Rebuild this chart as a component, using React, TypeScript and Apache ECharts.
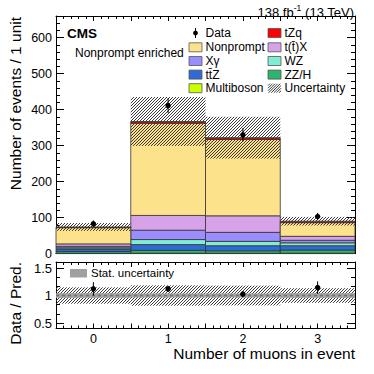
import React, { useEffect, useRef } from "react";
import * as echarts from "echarts";

// ---- data ----
const bins = [0, 1, 2, 3];
const xTickLabels = ["0", "1", "2", "3"];
const multiboson = [1, 1, 1, 1];
const zzh = [5, 8, 7, 9];
const ttz = [7, 16, 14, 12];
const wz = [3, 14, 12, 8];
const xgamma = [4, 26, 25, 7];
const ttx = [7, 41, 46, 11];
const nonprompt = [45, 256, 212, 38];
const tzq = [2, 5, 5, 4];
const observed = [83, 411, 330, 103];
const systUnc = [11, 68, 58, 12];
const statUncRel = [0.04, 0.035, 0.035, 0.04];
const mainYTicks = [0, 100, 200, 300, 400, 500, 600];
const ratioYTicks = [0.5, 1, 1.5];

const FONT = "'Liberation Sans', Arial, Helvetica, sans-serif";

const stackDefs = [
  { name: "Multiboson", values: multiboson, color: "#ccff00" },
  { name: "ZZ/H", values: zzh, color: "#2db36c" },
  { name: "tt\u0304Z", values: ttz, color: "#2f6bd6" },
  { name: "WZ", values: wz, color: "#80edd0" },
  { name: "X\u03b3", values: xgamma, color: "#9b8cff" },
  { name: "t(t\u0304)X", values: ttx, color: "#d6a2e8" },
  { name: "Nonprompt", values: nonprompt, color: "#fde28c" },
  { name: "tZq", values: tzq, color: "#ff0000" },
];

const totals = bins.map((_, i) => stackDefs.reduce((s, d) => s + d.values[i], 0));

function measure(text: string, size: number, weight = "normal") {
  const c = document.createElement("canvas").getContext("2d");
  if (!c) return text.length * size * 0.55;
  c.font = `${weight} ${size}px 'Liberation Sans', Arial, sans-serif`;
  return c.measureText(text).width;
}

function hatchLines(x0: number, y0: number, x1: number, y1: number, step: number, style: any) {
  const out: any[] = [];
  const cStart = Math.ceil((x0 + y0) / step) * step;
  for (let c = cStart; c <= x1 + y1; c += step) {
    const xa = Math.max(x0, c - y1);
    const xb = Math.min(x1, c - y0);
    if (xb > xa) out.push({ type: "line", shape: { x1: xa, y1: c - xa, x2: xb, y2: c - xb }, style });
  }
  return out;
}

const hatchStyle = { stroke: "#3a3a3a", lineWidth: 1 };

const boxRender = (color: string) => (params: any, api: any) => {
  const x = api.value(0), lo = api.value(1), hi = api.value(2);
  const a = api.coord([x - 0.5, hi]);
  const b = api.coord([x + 0.5, lo]);
  return {
    type: "rect",
    shape: { x: a[0], y: a[1], width: b[0] - a[0], height: b[1] - a[1] },
    style: { fill: color, stroke: "#333", lineWidth: 0.8 },
  };
};

const hatchRender = (params: any, api: any) => {
  const x = api.value(0), lo = api.value(1), hi = api.value(2);
  const a = api.coord([x - 0.5, hi]);
  const b = api.coord([x + 0.5, lo]);
  return { type: "group", children: hatchLines(a[0], a[1], b[0], b[1], 3, hatchStyle) };
};

const grayRender = (params: any, api: any) => {
  const x = api.value(0), lo = api.value(1), hi = api.value(2);
  const a = api.coord([x - 0.5, hi]);
  const b = api.coord([x + 0.5, lo]);
  return {
    type: "rect",
    shape: { x: a[0], y: a[1], width: b[0] - a[0], height: b[1] - a[1] },
    style: { fill: "#a0a0a0" },
  };
};

const pointRender = (params: any, api: any) => {
  const x = api.value(0), y = api.value(1), lo = api.value(2), hi = api.value(3);
  const p = api.coord([x, y]);
  const pl = api.coord([x, lo]);
  const ph = api.coord([x, hi]);
  return {
    type: "group",
    children: [
      { type: "line", shape: { x1: p[0], y1: pl[1], x2: p[0], y2: ph[1] }, style: { stroke: "#000", lineWidth: 1 } },
      { type: "circle", shape: { cx: p[0], cy: p[1], r: 2.7 }, style: { fill: "#000" } },
    ],
  };
};

function xAxis(gridIndex: number, position: string, showLabels: boolean) {
  return {
    type: "value",
    gridIndex,
    position,
    min: -0.5,
    max: 3.5,
    interval: 0.5,
    axisLine: { show: true, onZero: false, lineStyle: { color: "#000", width: 1 } },
    axisTick: { show: true, inside: true, length: 5, lineStyle: { color: "#000", width: 1 } },
    minorTick: { show: true, splitNumber: 5, length: 3, lineStyle: { color: "#000", width: 1 } },
    splitLine: { show: false },
    minorSplitLine: { show: false },
    axisLabel: showLabels
      ? {
          show: true,
          color: "#000",
          fontSize: 12.5,
          fontFamily: FONT,
          margin: 4,
          formatter: (v: number) => {
            const i = bins.indexOf(v);
            return i >= 0 ? xTickLabels[i] : "";
          },
        }
      : { show: false },
  };
}

function yMajor(gridIndex: number, position: string, min: number, max: number, ticks: number[], showLabels: boolean, fontSize: number, len: number) {
  return {
    type: "value",
    gridIndex,
    position,
    min,
    max,
    axisLine: { show: true, onZero: false, lineStyle: { color: "#000", width: 1 } },
    axisTick: { show: true, inside: true, length: len, customValues: ticks, lineStyle: { color: "#000", width: 1 } },
    splitLine: { show: false },
    axisLabel: showLabels
      ? { show: true, customValues: ticks, color: "#000", fontSize, fontFamily: FONT, margin: 4 }
      : { show: false },
  };
}

function yMinor(gridIndex: number, position: string, min: number, max: number, ticks: number[], len: number) {
  return {
    type: "value",
    gridIndex,
    position,
    min,
    max,
    axisLine: { show: false, onZero: false },
    axisTick: { show: true, inside: true, length: len, customValues: ticks, lineStyle: { color: "#000", width: 1 } },
    splitLine: { show: false },
    axisLabel: { show: false },
  };
}

const MAIN_MAX = 660;
const R_MIN = 0.4;
const R_MAX = 1.61;
const mainMinor: number[] = [];
for (let v = 0; v <= MAIN_MAX; v += 20) mainMinor.push(v);
const ratioMinor: number[] = [];
for (let k = 0; k <= 6; k++) ratioMinor.push(0.5 + k / 6);

function buildOption() {
  const series: any[] = [];
  stackDefs.forEach((d, si) => {
    const dataArr = bins.map((b, i) => {
      let lo = 0;
      for (let j = 0; j < si; j++) lo += stackDefs[j].values[i];
      return [b, lo, lo + d.values[i]];
    });
    series.push({
      type: "custom",
      name: d.name,
      xAxisIndex: 0,
      yAxisIndex: 0,
      z: 2,
      encode: { x: 0, y: [1, 2] },
      data: dataArr,
      renderItem: boxRender(d.color),
    });
  });
  series.push({
    type: "custom",
    name: "Uncertainty",
    xAxisIndex: 0,
    yAxisIndex: 0,
    z: 3,
    encode: { x: 0, y: [1, 2] },
    data: bins.map((b, i) => [b, totals[i] - systUnc[i], totals[i] + systUnc[i]]),
    renderItem: hatchRender,
  });
  series.push({
    type: "custom",
    name: "Data",
    xAxisIndex: 0,
    yAxisIndex: 0,
    z: 5,
    encode: { x: 0, y: [1, 2, 3] },
    data: bins.map((b, i) => [b, observed[i], observed[i] - Math.sqrt(observed[i]), observed[i] + Math.sqrt(observed[i])]),
    renderItem: pointRender,
  });
  // ratio panel
  series.push({
    type: "custom",
    name: "Syst ratio",
    xAxisIndex: 2,
    yAxisIndex: 4,
    z: 2,
    encode: { x: 0, y: [1, 2] },
    data: bins.map((b, i) => [b, 1 - systUnc[i] / totals[i], 1 + systUnc[i] / totals[i]]),
    renderItem: hatchRender,
  });
  series.push({
    type: "custom",
    name: "Stat. uncertainty",
    xAxisIndex: 2,
    yAxisIndex: 4,
    z: 3,
    encode: { x: 0, y: [1, 2] },
    data: bins.map((b, i) => [b, 1 - statUncRel[i], 1 + statUncRel[i]]),
    renderItem: grayRender,
  });
  series.push({
    type: "line",
    name: "unity",
    xAxisIndex: 2,
    yAxisIndex: 4,
    z: 4,
    symbol: "none",
    silent: true,
    data: [[-0.5, 1], [3.5, 1]],
    lineStyle: { color: "#707070", width: 1.5, type: [3, 3] },
  });
  series.push({
    type: "custom",
    name: "Data ratio",
    xAxisIndex: 2,
    yAxisIndex: 4,
    z: 5,
    encode: { x: 0, y: [1, 2, 3] },
    data: bins.map((b, i) => {
      const r = observed[i] / totals[i];
      const e = Math.sqrt(observed[i]) / totals[i];
      return [b, r, r - e, r + e];
    }),
    renderItem: pointRender,
  });

  // legend graphics
  const legendRows = [33, 47.3, 61, 74.6, 88.2];
  const col1 = [
    { label: "Data", kind: "data" },
    { label: "Nonprompt", kind: "box", color: stackDefs[6].color },
    { label: "X\u03b3", kind: "box", color: stackDefs[4].color },
    { label: "tt\u0304Z", kind: "box", color: stackDefs[2].color },
    { label: "Multiboson", kind: "box", color: stackDefs[0].color },
  ];
  const col2 = [
    { label: "tZq", kind: "box", color: stackDefs[7].color },
    { label: "t(t\u0304)X", kind: "box", color: stackDefs[5].color },
    { label: "WZ", kind: "box", color: stackDefs[3].color },
    { label: "ZZ/H", kind: "box", color: stackDefs[1].color },
    { label: "Uncertainty", kind: "hatch" },
  ];
  const graphics: any[] = [];
  const addEntry = (e: any, iconX: number, textX: number, y: number) => {
    if (e.kind === "box") {
      graphics.push({ type: "rect", shape: { x: iconX, y: y - 4.5, width: 13, height: 9 }, style: { fill: e.color, stroke: "#555", lineWidth: 0.8 } });
    } else if (e.kind === "hatch") {
      graphics.push({ type: "group", children: hatchLines(iconX, y - 4.5, iconX + 13, y + 4.5, 2.6, hatchStyle) });
    } else {
      graphics.push({ type: "line", shape: { x1: iconX + 6.5, y1: y - 5, x2: iconX + 6.5, y2: y + 5 }, style: { stroke: "#000", lineWidth: 1 } });
      graphics.push({ type: "circle", shape: { cx: iconX + 6.5, cy: y, r: 2.4 }, style: { fill: "#000" } });
    }
    graphics.push({ type: "text", x: textX, y, style: { text: e.label, fontSize: 12, fontFamily: FONT, fill: "#000", align: "left", verticalAlign: "middle" } });
  };
  col1.forEach((e, i) => addEntry(e, 189, 205.5, legendRows[i]));
  col2.forEach((e, i) => addEntry(e, 268, 284.5, legendRows[i]));

  // ratio legend
  graphics.push({ type: "rect", shape: { x: 70, y: 269, width: 17, height: 8.5 }, style: { fill: "#a0a0a0" } });
  graphics.push({ type: "text", x: 91, y: 273, style: { text: "Stat. uncertainty", fontSize: 11.5, fontFamily: FONT, fill: "#000", align: "left", verticalAlign: "middle" } });

  // labels
  graphics.push({ type: "text", x: 67, y: 33, style: { text: "CMS", fontSize: 13.5, fontWeight: "bold", fontFamily: FONT, fill: "#000", align: "left", verticalAlign: "middle" } });
  graphics.push({ type: "text", x: 75, y: 53, style: { text: "Nonprompt enriched", fontSize: 12, fontFamily: FONT, fill: "#000", align: "left", verticalAlign: "middle" } });

  // luminosity label with superscript, laid out right to left
  const lumiRight = 354;
  const tail = " (13 TeV)";
  const sup = "-1";
  const head = "138 fb";
  const wTail = measure(tail, 13);
  const wSup = measure(sup, 8.5);
  graphics.push({ type: "text", x: lumiRight, y: 12, style: { text: tail, fontSize: 13, fontFamily: FONT, fill: "#000", align: "right", verticalAlign: "middle" } });
  graphics.push({ type: "text", x: lumiRight - wTail, y: 7.5, style: { text: sup, fontSize: 8.5, fontFamily: FONT, fill: "#000", align: "right", verticalAlign: "middle" } });
  graphics.push({ type: "text", x: lumiRight - wTail - wSup, y: 12, style: { text: head, fontSize: 13, fontFamily: FONT, fill: "#000", align: "right", verticalAlign: "middle" } });

  graphics.push({ type: "text", x: 15, y: 17, rotation: Math.PI / 2, style: { text: "Number of events / 1 unit", fontSize: 15.5, fontFamily: FONT, fill: "#000", align: "right", verticalAlign: "middle" } });
  graphics.push({ type: "text", x: 15, y: 262, rotation: Math.PI / 2, style: { text: "Data / Pred.", fontSize: 15.5, fontFamily: FONT, fill: "#000", align: "right", verticalAlign: "middle" } });
  graphics.push({ type: "text", x: 355, y: 353, style: { text: "Number of muons in event", fontSize: 15.5, fontFamily: FONT, fill: "#000", align: "right", verticalAlign: "middle" } });

  return {
    animation: false,
    backgroundColor: "#fff",
    grid: [
      { left: 56, top: 16, width: 299, height: 237.6, outerBoundsMode: "none", containLabel: false },
      { left: 56, top: 262, width: 299, height: 66.5, outerBoundsMode: "none", containLabel: false },
    ],
    xAxis: [xAxis(0, "bottom", false), xAxis(0, "top", false), xAxis(1, "bottom", true), xAxis(1, "top", false)],
    yAxis: [
      yMajor(0, "left", 0, MAIN_MAX, mainYTicks, true, 12.5, 8),
      yMinor(0, "left", 0, MAIN_MAX, mainMinor, 4),
      yMajor(0, "right", 0, MAIN_MAX, mainYTicks, false, 12, 8),
      yMinor(0, "right", 0, MAIN_MAX, mainMinor, 4),
      yMajor(1, "left", R_MIN, R_MAX, ratioYTicks, true, 13, 8),
      yMinor(1, "left", R_MIN, R_MAX, ratioMinor, 4),
      yMajor(1, "right", R_MIN, R_MAX, ratioYTicks, false, 13, 8),
      yMinor(1, "right", R_MIN, R_MAX, ratioMinor, 4),
    ],
    series,
    graphic: graphics,
  };
}

export default function App() {
  const ref = useRef<HTMLDivElement>(null);
  useEffect(() => {
    if (!ref.current) return;
    const chart = echarts.init(ref.current, undefined, { renderer: "svg" });
    chart.setOption(buildOption() as any);
    return () => chart.dispose();
  }, []);
  return <div ref={ref} style={{ position: "fixed", left: 0, top: 0, width: 374, height: 374, background: "#fff" }} />;
}
